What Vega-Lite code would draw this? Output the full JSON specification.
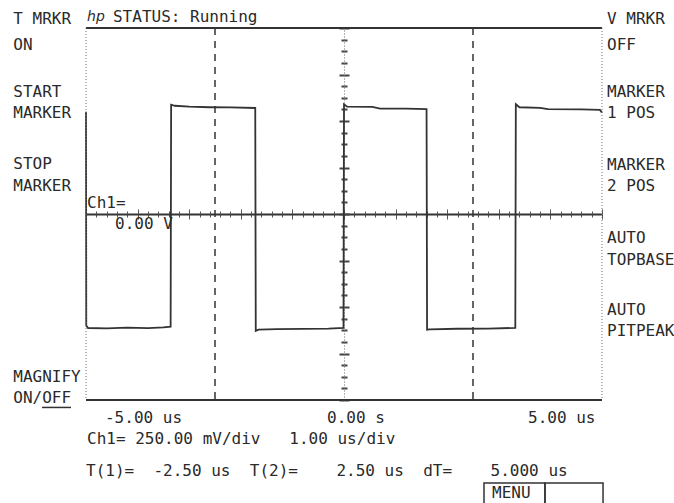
{
  "$schema": "https://vega.github.io/schema/vega-lite/v6.json",
  "width": 516,
  "height": 372,
  "autosize": {"type": "none"},
  "padding": {"left": 86, "top": 28, "right": 72, "bottom": 103},
  "background": "white",
  "view": {"stroke": null},
  "datasets": {
    "wave": [
      {"t": -5.0, "v": 0.55}, {"t": -4.995, "v": -0.6}, {"t": -4.96, "v": -0.613}, {"t": -4.6, "v": -0.615},
      {"t": -4.2, "v": -0.611}, {"t": -3.8, "v": -0.614}, {"t": -3.5, "v": -0.61}, {"t": -3.36, "v": -0.606},
      {"t": -3.35, "v": 0.588}, {"t": -3.28, "v": 0.582}, {"t": -3.0, "v": 0.577}, {"t": -2.6, "v": 0.574},
      {"t": -2.2, "v": 0.573}, {"t": -1.72, "v": 0.57}, {"t": -1.71, "v": -0.628}, {"t": -1.66, "v": -0.622},
      {"t": -1.3, "v": -0.619}, {"t": -0.8, "v": -0.618}, {"t": -0.3, "v": -0.616}, {"t": -0.01, "v": -0.612},
      {"t": 0.0, "v": 0.59}, {"t": 0.06, "v": 0.577}, {"t": 0.55, "v": 0.576}, {"t": 0.7, "v": 0.567},
      {"t": 1.2, "v": 0.566}, {"t": 1.6, "v": 0.564}, {"t": 1.61, "v": -0.622}, {"t": 1.66, "v": -0.62},
      {"t": 2.2, "v": -0.617}, {"t": 2.8, "v": -0.616}, {"t": 3.32, "v": -0.612}, {"t": 3.33, "v": 0.59},
      {"t": 3.4, "v": 0.574}, {"t": 3.8, "v": 0.571}, {"t": 3.95, "v": 0.564}, {"t": 4.6, "v": 0.562},
      {"t": 4.96, "v": 0.56}, {"t": 5.0, "v": 0.545}
    ],
    "markers": [
      {"t": -2.5, "top": 1, "bottom": -1},
      {"t": 2.5, "top": 1, "bottom": -1}
    ],
    "hborder": [{"v": 1}, {"v": -1}],
    "vborder": [{"t": -5}, {"t": 5}],
    "boxes": [
      {"t1": 2.713, "t2": 3.895, "v1": -1.446, "v2": -1.565},
      {"t1": 3.895, "t2": 5.02, "v1": -1.446, "v2": -1.565}
    ],
    "underline": [{"t1": -5.853, "t2": -5.291, "v": -1.04}],
    "labels": [
      {"text": "T MRKR", "t": -6.41, "v": 1.048},
      {"text": "ON", "t": -6.41, "v": 0.909},
      {"text": "START", "t": -6.41, "v": 0.656},
      {"text": "MARKER", "t": -6.41, "v": 0.543},
      {"text": "STOP", "t": -6.41, "v": 0.269},
      {"text": "MARKER", "t": -6.41, "v": 0.151},
      {"text": "MAGNIFY", "t": -6.41, "v": -0.876},
      {"text": "ON/OFF", "t": -6.41, "v": -0.989},
      {"text": "V MRKR", "t": 5.097, "v": 1.048},
      {"text": "OFF", "t": 5.097, "v": 0.909},
      {"text": "MARKER", "t": 5.097, "v": 0.656},
      {"text": "1 POS", "t": 5.097, "v": 0.543},
      {"text": "MARKER", "t": 5.097, "v": 0.263},
      {"text": "2 POS", "t": 5.097, "v": 0.151},
      {"text": "AUTO", "t": 5.097, "v": -0.129},
      {"text": "TOPBASE", "t": 5.097, "v": -0.247},
      {"text": "AUTO", "t": 5.097, "v": -0.516},
      {"text": "PITPEAK", "t": 5.097, "v": -0.629},
      {"text": "STATUS: Running", "t": -4.477, "v": 1.059},
      {"text": "Ch1=", "t": -4.98, "v": 0.059},
      {"text": "0.00 V", "t": -4.438, "v": -0.054},
      {"text": "-5.00 us", "t": -4.632, "v": -1.097},
      {"text": "0.00 s", "t": -0.329, "v": -1.097},
      {"text": "5.00 us", "t": 3.566, "v": -1.097},
      {"text": "Ch1= 250.00 mV/div\u00a0\u00a0\u00a01.00 us/div", "t": -4.98, "v": -1.212},
      {"text": "T(1)=\u00a0\u00a0-2.50 us\u00a0\u00a0T(2)=\u00a0\u00a0\u00a0\u00a02.50 us\u00a0\u00a0dT=\u00a0\u00a0\u00a0\u00a05.000 us", "t": -5.0, "v": -1.382},
      {"text": "MENU", "t": 2.87, "v": -1.5}
    ],
    "logo": [{"text": "hp", "t": -4.98, "v": 1.059}]
  },
  "resolve": {"axis": {"x": "independent", "y": "independent"}},
  "layer": [
    {
      "data": {"name": "wave"},
      "mark": {"type": "line", "stroke": "#333333", "strokeWidth": 1.8, "interpolate": "linear"},
      "encoding": {
        "x": {
          "field": "t", "type": "quantitative",
          "scale": {"domain": [-5, 5], "nice": false, "zero": false},
          "axis": {
            "orient": "bottom", "offset": -186, "title": null, "labels": false, "grid": false,
            "domain": true, "domainColor": "#333333", "domainWidth": 2,
            "ticks": true, "tickColor": "#555555", "tickWidth": 1,
            "tickSize": {"condition": {"test": "abs(datum.value - round(datum.value)) < 0.001", "value": 5}, "value": 3},
            "values": [-5,-4.8,-4.6,-4.4,-4.2,-4,-3.8,-3.6,-3.4,-3.2,-3,-2.8,-2.6,-2.4,-2.2,-2,-1.8,-1.6,-1.4,-1.2,-1,-0.8,-0.6,-0.4,-0.2,0,0.2,0.4,0.6,0.8,1,1.2,1.4,1.6,1.8,2,2.2,2.4,2.6,2.8,3,3.2,3.4,3.6,3.8,4,4.2,4.4,4.6,4.8,5]
          }
        },
        "y": {
          "field": "v", "type": "quantitative",
          "scale": {"domain": [-1, 1], "nice": false, "zero": false},
          "axis": {
            "orient": "left", "offset": -258, "title": null, "labels": false, "grid": false,
            "domain": true, "domainColor": "#666666", "domainWidth": 1, "domainDash": [1, 2],
            "ticks": true, "tickColor": "#444444", "tickWidth": 2,
            "tickSize": {"condition": {"test": "abs(datum.value * 4 - round(datum.value * 4)) < 0.001", "value": 5}, "value": 3},
            "values": [-1,-0.9375,-0.875,-0.8125,-0.75,-0.6875,-0.625,-0.5625,-0.5,-0.4375,-0.375,-0.3125,-0.25,-0.1875,-0.125,-0.0625,0,0.0625,0.125,0.1875,0.25,0.3125,0.375,0.4375,0.5,0.5625,0.625,0.6875,0.75,0.8125,0.875,0.9375,1]
          }
        }
      }
    },
    {
      "data": {"name": "markers"},
      "mark": {"type": "rule", "stroke": "#333333", "strokeWidth": 1.5, "strokeDash": [7, 6]},
      "encoding": {
        "x": {
          "field": "t", "type": "quantitative",
          "scale": {"domain": [-5, 5], "nice": false, "zero": false},
          "axis": {
            "orient": "top", "offset": -186, "title": null, "labels": false, "grid": false, "domain": false,
            "ticks": true, "tickColor": "#555555", "tickWidth": 1,
            "tickSize": {"condition": {"test": "abs(datum.value - round(datum.value)) < 0.001", "value": 5}, "value": 3},
            "values": [-5,-4.8,-4.6,-4.4,-4.2,-4,-3.8,-3.6,-3.4,-3.2,-3,-2.8,-2.6,-2.4,-2.2,-2,-1.8,-1.6,-1.4,-1.2,-1,-0.8,-0.6,-0.4,-0.2,0,0.2,0.4,0.6,0.8,1,1.2,1.4,1.6,1.8,2,2.2,2.4,2.6,2.8,3,3.2,3.4,3.6,3.8,4,4.2,4.4,4.6,4.8,5]
          }
        },
        "y": {
          "field": "top", "type": "quantitative",
          "scale": {"domain": [-1, 1], "nice": false, "zero": false},
          "axis": {
            "orient": "right", "offset": -258, "title": null, "labels": false, "grid": false, "domain": false,
            "ticks": true, "tickColor": "#444444", "tickWidth": 2,
            "tickSize": {"condition": {"test": "abs(datum.value * 4 - round(datum.value * 4)) < 0.001", "value": 5}, "value": 3},
            "values": [-1,-0.9375,-0.875,-0.8125,-0.75,-0.6875,-0.625,-0.5625,-0.5,-0.4375,-0.375,-0.3125,-0.25,-0.1875,-0.125,-0.0625,0,0.0625,0.125,0.1875,0.25,0.3125,0.375,0.4375,0.5,0.5625,0.625,0.6875,0.75,0.8125,0.875,0.9375,1]
          }
        },
        "y2": {"field": "bottom"}
      }
    },
    {
      "data": {"name": "hborder"},
      "mark": {"type": "rule", "stroke": "#333333", "strokeWidth": 2},
      "encoding": {
        "y": {"field": "v", "type": "quantitative", "scale": {"domain": [-1, 1], "nice": false, "zero": false}, "axis": null}
      }
    },
    {
      "data": {"name": "vborder"},
      "mark": {"type": "rule", "stroke": "#777777", "strokeWidth": 1, "strokeDash": [1, 2]},
      "encoding": {
        "x": {"field": "t", "type": "quantitative", "scale": {"domain": [-5, 5], "nice": false, "zero": false}, "axis": null}
      }
    },
    {
      "data": {"name": "boxes"},
      "mark": {"type": "rect", "fill": null, "fillOpacity": 0, "stroke": "#333333", "strokeWidth": 1.5},
      "encoding": {
        "x": {"field": "t1", "type": "quantitative", "scale": {"domain": [-5, 5], "nice": false, "zero": false}, "axis": null},
        "x2": {"field": "t2"},
        "y": {"field": "v1", "type": "quantitative", "scale": {"domain": [-1, 1], "nice": false, "zero": false}, "axis": null},
        "y2": {"field": "v2"}
      }
    },
    {
      "data": {"name": "underline"},
      "mark": {"type": "rule", "stroke": "#333333", "strokeWidth": 1.5},
      "encoding": {
        "x": {"field": "t1", "type": "quantitative", "scale": {"domain": [-5, 5], "nice": false, "zero": false}, "axis": null},
        "x2": {"field": "t2"},
        "y": {"field": "v", "type": "quantitative", "scale": {"domain": [-1, 1], "nice": false, "zero": false}, "axis": null}
      }
    },
    {
      "data": {"name": "labels"},
      "mark": {"type": "text", "font": "DejaVu Sans Mono", "fontSize": 16, "align": "left", "baseline": "middle", "fill": "#2a2a2a"},
      "encoding": {
        "x": {"field": "t", "type": "quantitative", "scale": {"domain": [-5, 5], "nice": false, "zero": false}, "axis": null},
        "y": {"field": "v", "type": "quantitative", "scale": {"domain": [-1, 1], "nice": false, "zero": false}, "axis": null},
        "text": {"field": "text"}
      }
    },
    {
      "data": {"name": "logo"},
      "mark": {"type": "text", "font": "DejaVu Sans", "fontSize": 14, "fontStyle": "italic", "align": "left", "baseline": "middle", "fill": "#2a2a2a"},
      "encoding": {
        "x": {"field": "t", "type": "quantitative", "scale": {"domain": [-5, 5], "nice": false, "zero": false}, "axis": null},
        "y": {"field": "v", "type": "quantitative", "scale": {"domain": [-1, 1], "nice": false, "zero": false}, "axis": null},
        "text": {"field": "text"}
      }
    }
  ]
}
